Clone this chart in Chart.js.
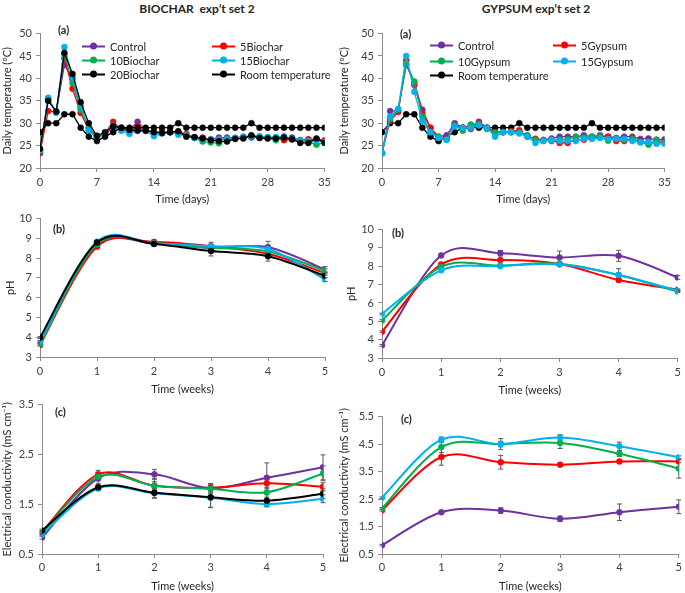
<!DOCTYPE html>
<html>
<head>
<meta charset="utf-8">
<script src="https://cdn.jsdelivr.net/npm/chart.js@4.4.1/dist/chart.umd.min.js"></script>
<style>
  body { margin: 0; background: #fff; }
  #page { position: relative; width: 685px; height: 593px; overflow: hidden; font-family: Lato, "Open Sans", sans-serif; color: #262626; }
  canvas { position: absolute; }
  .title { position: absolute; font-weight: bold; font-size: 12px; white-space: pre; transform: translate(-50%, -50%); }
  .tag { position: absolute; font-weight: bold; font-size: 11px; transform: translateY(-50%); }
  .leg { position: absolute; font-size: 11px; white-space: nowrap; transform: translateY(-50%); display: flex; align-items: center; }
  .leg .sw { position: relative; width: 23px; height: 8px; margin-right: 5px; }
  .leg .sw .ln { position: absolute; left: 0; right: 0; top: 3px; height: 2px; }
  .leg .sw .dot { position: absolute; left: 8px; top: 0; width: 7px; height: 7px; border-radius: 50%; }
</style>
</head>
<body>
<div id="page">
  <div class="title" style="left:197px; top:8px;">BIOCHAR  exp’t set 2</div>
  <div class="title" style="left:536px; top:8px;">GYPSUM exp’t set 2</div>

  <canvas id="temp-biochar"></canvas>
  <canvas id="temp-gypsum"></canvas>
  <canvas id="ph-biochar"></canvas>
  <canvas id="ph-gypsum"></canvas>
  <canvas id="ec-biochar"></canvas>
  <canvas id="ec-gypsum"></canvas>

  <div class="tag" style="left:58px; top:29px;">(a)</div>
  <div class="tag" style="left:400px; top:33px;">(a)</div>
  <div class="tag" style="left:53px; top:228px;">(b)</div>
  <div class="tag" style="left:392px; top:232px;">(b)</div>
  <div class="tag" style="left:55px; top:411px;">(c)</div>
  <div class="tag" style="left:401px; top:418px;">(c)</div>

  <div id="legend-biochar"></div>
  <div id="legend-gypsum"></div>
</div>

<script>
// ---- Data ----
const days = [0, 1, 2, 3, 4, 5, 6, 7, 8, 9, 10, 11, 12, 13, 14, 15, 16, 17, 18, 19, 20, 21, 22, 23, 24, 25, 26, 27, 28, 29, 30, 31, 32, 33, 34, 35];
const weeks = [0, 1, 2, 3, 4, 5];

const biocharNames = ["Control", "5Biochar", "10Biochar", "15Biochar", "20Biochar"];
const gypsumNames = ["Control", "5Gypsum", "10Gypsum", "15Gypsum"];
const roomName = "Room temperature";

// Daily temperature (degC), biochar set
const bcTempControl = [24.0, 35.5, 32.5, 43.0, 40.0, 33.5, 29.0, 27.0, 27.5, 29.0, 28.5, 28.5, 30.3, 28.5, 28.0, 27.8, 28.0, 28.0, 27.3, 26.8, 26.6, 26.4, 26.8, 26.8, 26.7, 27.0, 26.8, 26.9, 26.7, 26.7, 26.8, 26.8, 26.2, 26.3, 26.3, 26.0];
const bcTemp5 = [23.3, 32.7, 32.5, 44.5, 37.7, 32.3, 28.5, 26.8, 27.8, 30.3, 28.5, 28.3, 29.3, 28.5, 28.0, 28.0, 28.0, 28.0, 27.6, 26.8, 26.8, 26.3, 26.4, 26.5, 26.7, 26.8, 27.0, 26.8, 26.8, 26.7, 26.2, 26.4, 26.2, 26.4, 26.4, 26.2];
const bcTemp10 = [23.8, 35.3, 32.5, 45.3, 39.0, 33.0, 29.0, 27.0, 27.5, 29.5, 28.5, 28.5, 28.5, 28.5, 28.0, 28.0, 28.0, 28.0, 27.2, 26.7, 25.9, 25.7, 25.5, 26.2, 26.6, 26.8, 26.9, 26.8, 26.8, 26.2, 26.8, 26.4, 26.2, 25.9, 25.2, 25.7];
const bcTemp15 = [24.0, 35.7, 32.3, 47.0, 40.2, 34.0, 28.3, 26.8, 27.5, 29.3, 28.3, 27.6, 28.5, 28.3, 27.1, 27.7, 28.0, 27.4, 27.3, 26.7, 26.4, 26.4, 26.4, 26.5, 26.7, 26.9, 27.2, 27.1, 26.9, 26.9, 27.1, 26.4, 26.0, 26.0, 26.1, 25.8];
const bcTemp20 = [24.3, 35.0, 32.6, 45.7, 41.0, 34.7, 30.0, 27.2, 28.0, 29.3, 29.0, 28.5, 28.3, 28.3, 28.0, 27.8, 28.0, 28.2, 27.0, 26.9, 26.6, 26.2, 26.0, 25.9, 26.5, 26.6, 27.3, 26.7, 26.6, 26.6, 26.8, 26.4, 25.6, 25.6, 26.6, 25.6];
const roomTemp = [28, 30, 30, 32, 32, 29, 27, 26, 27, 28, 29, 29, 29, 29, 29, 29, 29, 30, 29, 29, 29, 29, 29, 29, 29, 29, 30, 29, 29, 29, 29, 29, 29, 29, 29, 29];

// Daily temperature (degC), gypsum set
const gyTempControl = [23.3, 32.7, 32.8, 43.0, 39.0, 33.0, 29.0, 27.0, 27.3, 30.0, 29.0, 28.7, 30.3, 29.0, 28.0, 28.0, 28.0, 28.2, 27.2, 26.5, 26.3, 26.6, 27.0, 27.0, 27.0, 27.3, 27.0, 27.3, 27.0, 26.7, 27.0, 27.0, 26.5, 26.6, 26.3, 26.4];
const gyTemp5 = [23.3, 30.5, 32.5, 44.0, 38.5, 32.2, 29.0, 26.8, 26.5, 29.5, 29.0, 29.5, 30.0, 29.0, 28.0, 28.0, 28.2, 28.4, 27.0, 26.5, 26.1, 26.2, 25.6, 25.6, 26.4, 26.3, 26.7, 27.0, 27.0, 26.0, 26.0, 26.5, 25.9, 25.6, 25.8, 25.8];
const gyTemp10 = [23.3, 31.0, 33.0, 43.3, 39.3, 31.5, 28.0, 27.0, 26.3, 29.5, 28.3, 29.7, 29.8, 28.7, 27.8, 28.0, 28.0, 28.0, 27.3, 26.3, 26.2, 26.0, 26.4, 26.4, 27.0, 26.8, 27.0, 27.0, 26.1, 26.5, 26.3, 26.5, 25.8, 25.2, 26.3, 25.6];
const gyTemp15 = [23.3, 31.5, 33.2, 45.0, 37.0, 30.5, 28.0, 26.7, 26.3, 29.3, 29.0, 29.0, 29.5, 29.0, 27.0, 28.0, 28.0, 27.7, 27.0, 25.6, 26.0, 26.3, 26.0, 26.0, 26.0, 26.5, 26.5, 26.7, 26.5, 26.5, 26.5, 26.0, 25.7, 25.8, 25.4, 25.4];

// pH, biochar set (mean and error)
const bcPhControl = [3.75, 8.63, 8.74, 8.52, 8.55, 7.42];
const bcPh5 = [3.6, 8.58, 8.82, 8.6, 8.22, 7.24];
const bcPh10 = [3.65, 8.7, 8.75, 8.52, 8.34, 7.36];
const bcPh15 = [3.78, 8.83, 8.74, 8.6, 8.46, 6.92];
const bcPh20 = [3.98, 8.79, 8.72, 8.36, 8.1, 7.1];
const bcPhErrControl = [0.05, 0.05, 0.1, 0.1, 0.3, 0.15];
const bcPhErr5 = [0.05, 0.05, 0.1, 0.1, 0.1, 0.1];
const bcPhErr10 = [0.05, 0.05, 0.1, 0.1, 0.1, 0.1];
const bcPhErr15 = [0.05, 0.05, 0.1, 0.2, 0.2, 0.1];
const bcPhErr20 = [0.05, 0.1, 0.1, 0.25, 0.25, 0.1];

// pH, gypsum set
const gyPhControl = [3.69, 8.59, 8.71, 8.48, 8.57, 7.39];
const gyPh5 = [4.43, 8.1, 8.34, 8.12, 7.25, 6.72];
const gyPh10 = [5.04, 7.97, 8.04, 8.14, 7.52, 6.62];
const gyPh15 = [5.4, 7.78, 8.01, 8.1, 7.53, 6.67];
const gyPhErrControl = [0.05, 0.05, 0.15, 0.35, 0.3, 0.1];
const gyPhErr5 = [0.05, 0.05, 0.05, 0.05, 0.1, 0.05];
const gyPhErr10 = [0.05, 0.05, 0.05, 0.1, 0.35, 0.05];
const gyPhErr15 = [0.05, 0.05, 0.05, 0.1, 0.1, 0.05];

// Electrical conductivity (mS/cm), biochar set
const bcEcControl = [0.83, 2.02, 2.1, 1.82, 2.03, 2.24];
const bcEc5 = [0.94, 2.1, 1.87, 1.83, 1.92, 1.85];
const bcEc10 = [0.92, 2.05, 1.87, 1.81, 1.74, 2.12];
const bcEc15 = [0.89, 1.82, 1.72, 1.63, 1.5, 1.61];
const bcEc20 = [0.97, 1.84, 1.73, 1.64, 1.57, 1.71];
const bcEcErrControl = [0.03, 0.1, 0.1, 0.08, 0.3, 0.25];
const bcEcErr5 = [0.03, 0.08, 0.08, 0.08, 0.1, 0.08];
const bcEcErr10 = [0.03, 0.08, 0.15, 0.1, 0.1, 0.15];
const bcEcErr15 = [0.03, 0.05, 0.1, 0.2, 0.05, 0.08];
const bcEcErr20 = [0.03, 0.05, 0.1, 0.2, 0.12, 0.1];

// Electrical conductivity (mS/cm), gypsum set
const gyEcControl = [0.82, 2.02, 2.08, 1.78, 2.02, 2.22];
const gyEc5 = [2.09, 4.03, 3.84, 3.75, 3.87, 3.87];
const gyEc10 = [2.16, 4.39, 4.5, 4.54, 4.15, 3.61];
const gyEc15 = [2.55, 4.66, 4.5, 4.74, 4.42, 4.02];
const gyEcErrControl = [0.03, 0.05, 0.1, 0.1, 0.3, 0.25];
const gyEcErr5 = [0.03, 0.3, 0.25, 0.05, 0.05, 0.05];
const gyEcErr10 = [0.03, 0.2, 0.1, 0.2, 0.1, 0.35];
const gyEcErr15 = [0.03, 0.1, 0.2, 0.1, 0.15, 0.05];

// ---- Styling ----
const seriesColors = ["#7030A0", "#FF0000", "#00B050", "#00B0F0", "#000000"];
const roomColor = "#000000";
const axisColor = "#8c8c8c";

Chart.defaults.font.family = "Lato, 'Open Sans', sans-serif";
Chart.defaults.font.size = 11;
Chart.defaults.color = "#262626";
Chart.defaults.animation = false;

// Draw vertical error bars under the markers
const errorBarPlugin = {
  id: "errorBars",
  beforeDatasetsDraw(chart) {
    const ctx = chart.ctx;
    const yScale = chart.scales.y;
    chart.data.datasets.forEach((ds, i) => {
      if (!ds.errors) return;
      const meta = chart.getDatasetMeta(i);
      ctx.save();
      ctx.strokeStyle = "#595959";
      ctx.lineWidth = 1;
      meta.data.forEach((pt, j) => {
        const err = ds.errors[j];
        const v = ds.data[j].y;
        const top = yScale.getPixelForValue(v + err);
        const bot = yScale.getPixelForValue(v - err);
        ctx.beginPath();
        ctx.moveTo(pt.x, top);
        ctx.lineTo(pt.x, bot);
        ctx.moveTo(pt.x - 2.5, top);
        ctx.lineTo(pt.x + 2.5, top);
        ctx.moveTo(pt.x - 2.5, bot);
        ctx.lineTo(pt.x + 2.5, bot);
        ctx.stroke();
      });
      ctx.restore();
    });
  },
};

// Excel-like smoothed line (uniform Catmull-Rom control points)
const smoothPlugin = {
  id: "excelSmooth",
  beforeDatasetDraw(chart, args) {
    const meta = args.meta;
    const line = meta.dataset;
    if (!line || !line.options.tension) return;
    const pts = meta.data;
    const n = pts.length;
    for (let i = 0; i < n; i++) {
      const prev = pts[Math.max(i - 1, 0)];
      const next = pts[Math.min(i + 1, n - 1)];
      const dx = (next.x - prev.x) / 6;
      const dy = (next.y - prev.y) / 6;
      pts[i].cp1x = pts[i].x - dx;
      pts[i].cp1y = pts[i].y - dy;
      pts[i].cp2x = pts[i].x + dx;
      pts[i].cp2y = pts[i].y + dy;
    }
    line._pointsUpdated = true;
    line._path = undefined;
  },
};

// Build one dataset
function makeSeries(label, xs, ys, color, style, errors) {
  return {
    label: label,
    data: xs.map((x, i) => ({ x: x, y: ys[i] })),
    borderColor: color,
    backgroundColor: color,
    pointBackgroundColor: color,
    pointBorderColor: color,
    pointBorderWidth: 0.5,
    pointRadius: style.radius,
    borderWidth: style.width,
    tension: style.tension,
    errors: errors,
  };
}

// Create one panel so that its plot area sits exactly in box
function makePanel(id, box, datasets, axes) {
  const canvas = document.getElementById(id);
  const left = box.L - box.yw;
  const top = box.T - 10;
  const width = box.R + box.padR - left;
  const height = box.B - box.T + 10 + box.xh;
  canvas.width = width;
  canvas.height = height;
  canvas.style.left = left + "px";
  canvas.style.top = top + "px";
  canvas.style.width = width + "px";
  canvas.style.height = height + "px";

  // later series are drawn on top
  datasets.forEach((ds, i) => (ds.order = datasets.length - i));

  const tickGrid = {
    display: true,
    drawOnChartArea: false,
    drawTicks: true,
    tickLength: 4,
    color: axisColor,
  };

  return new Chart(canvas, {
    type: "line",
    data: { datasets: datasets },
    options: {
      responsive: false,
      animation: false,
      layout: { padding: { top: 10, right: box.padR, left: 0, bottom: 0 } },
      plugins: { legend: { display: false }, tooltip: { enabled: false } },
      scales: {
        x: {
          type: "linear",
          min: axes.xMin,
          max: axes.xMax,
          ticks: { stepSize: axes.xStep, padding: box.xPad, color: "#404040" },
          grid: tickGrid,
          border: { display: true, color: axisColor, width: 1 },
          title: { display: true, text: axes.xTitle, padding: 0, color: "#262626" },
          afterFit: (s) => { s.height = box.xh; },
        },
        y: {
          type: "linear",
          min: axes.yMin,
          max: axes.yMax,
          ticks: { stepSize: axes.yStep, padding: 4, color: "#404040" },
          grid: tickGrid,
          border: { display: true, color: axisColor, width: 1 },
          title: { display: true, text: axes.yTitle, padding: 0, color: "#262626" },
          afterFit: (s) => { s.width = box.yw; },
        },
      },
    },
    plugins: [errorBarPlugin, smoothPlugin],
  });
}

// Legend made of html text
function makeLegend(containerId, names, colors, layout) {
  const el = document.getElementById(containerId);
  names.forEach((name, i) => {
    const col = i % 2;
    const row = Math.floor(i / 2);
    const item = document.createElement("div");
    item.className = "leg";
    item.style.left = layout.cols[col] + "px";
    item.style.top = layout.rows[row] + "px";
    item.innerHTML =
      '<span class="sw"><span class="ln" style="background:' + colors[i] + '"></span>' +
      '<span class="dot" style="background:' + colors[i] + '"></span></span><span>' + name + "</span>";
    el.appendChild(item);
  });
}

const tempStyle = { radius: 3, width: 1.3, tension: 0 };
const smoothStyle = { radius: 3, width: 2, tension: 0.4 };

// ---- Temperature panels ----
const tempAxes = { xMin: 0, xMax: 35, xStep: 7, yMin: 20, yMax: 50, yStep: 5, xTitle: "Time (days)", yTitle: "Daily temperature (ºC)" };

const bcTempSets = [bcTempControl, bcTemp5, bcTemp10, bcTemp15, bcTemp20];
const bcTempData = bcTempSets.map((vals, i) => makeSeries(biocharNames[i], days, vals, seriesColors[i], tempStyle));
bcTempData.push(makeSeries(roomName, days, roomTemp, roomColor, tempStyle));
makePanel("temp-biochar", { L: 40, T: 33, R: 325, B: 168, yw: 39, xh: 38, padR: 10, xPad: 4 }, bcTempData, tempAxes);

const gyTempSets = [gyTempControl, gyTemp5, gyTemp10, gyTemp15];
const gyTempData = [makeSeries(roomName, days, roomTemp, roomColor, tempStyle)];
gyTempSets.forEach((vals, i) => gyTempData.push(makeSeries(gypsumNames[i], days, vals, seriesColors[i], tempStyle)));
makePanel("temp-gypsum", { L: 382, T: 33, R: 665, B: 168, yw: 44, xh: 38, padR: 10, xPad: 4 }, gyTempData, tempAxes);

makeLegend("legend-biochar", biocharNames.concat([roomName]), seriesColors.concat([roomColor]),
  { cols: [82, 212], rows: [46, 60, 74] });
makeLegend("legend-gypsum", gypsumNames.concat([roomName]), seriesColors.slice(0, 4).concat([roomColor]),
  { cols: [430, 553], rows: [45, 61, 75] });

// ---- pH panels ----
const phAxes = { xMin: 0, xMax: 5, xStep: 1, yMin: 3, yMax: 10, yStep: 1, xTitle: "Time (weeks)", yTitle: "pH" };

const bcPhSets = [bcPhControl, bcPh5, bcPh10, bcPh15, bcPh20];
const bcPhErrs = [bcPhErrControl, bcPhErr5, bcPhErr10, bcPhErr15, bcPhErr20];
makePanel("ph-biochar", { L: 40, T: 218, R: 325, B: 357, yw: 36, xh: 39, padR: 10, xPad: 4 },
  bcPhSets.map((vals, i) => makeSeries(biocharNames[i], weeks, vals, seriesColors[i], smoothStyle, bcPhErrs[i])), phAxes);

const gyPhSets = [gyPhControl, gyPh5, gyPh10, gyPh15];
const gyPhErrs = [gyPhErrControl, gyPhErr5, gyPhErr10, gyPhErr15];
makePanel("ph-gypsum", { L: 382, T: 229, R: 680, B: 358, yw: 37, xh: 39, padR: 5, xPad: 4 },
  gyPhSets.map((vals, i) => makeSeries(gypsumNames[i], weeks, vals, seriesColors[i], smoothStyle, gyPhErrs[i])), phAxes);

// ---- Electrical conductivity panels ----
const ecTitle = "Electrical conductivity (mS cm⁻¹)";

const bcEcSets = [bcEcControl, bcEc5, bcEc10, bcEc15, bcEc20];
const bcEcErrs = [bcEcErrControl, bcEcErr5, bcEcErr10, bcEcErr15, bcEcErr20];
makePanel("ec-biochar", { L: 42, T: 404, R: 323, B: 554, yw: 41, xh: 39, padR: 10, xPad: 3 },
  bcEcSets.map((vals, i) => makeSeries(biocharNames[i], weeks, vals, seriesColors[i], smoothStyle, bcEcErrs[i])),
  { xMin: 0, xMax: 5, xStep: 1, yMin: 0.5, yMax: 3.5, yStep: 1, xTitle: "Time (weeks)", yTitle: ecTitle });

const gyEcSets = [gyEcControl, gyEc5, gyEc10, gyEc15];
const gyEcErrs = [gyEcErrControl, gyEcErr5, gyEcErr10, gyEcErr15];
makePanel("ec-gypsum", { L: 382, T: 416, R: 680, B: 554, yw: 44, xh: 39, padR: 5, xPad: 3 },
  gyEcSets.map((vals, i) => makeSeries(gypsumNames[i], weeks, vals, seriesColors[i], smoothStyle, gyEcErrs[i])),
  { xMin: 0, xMax: 5, xStep: 1, yMin: 0.5, yMax: 5.5, yStep: 1, xTitle: "Time (weeks)", yTitle: ecTitle });
</script>
</body>
</html>
